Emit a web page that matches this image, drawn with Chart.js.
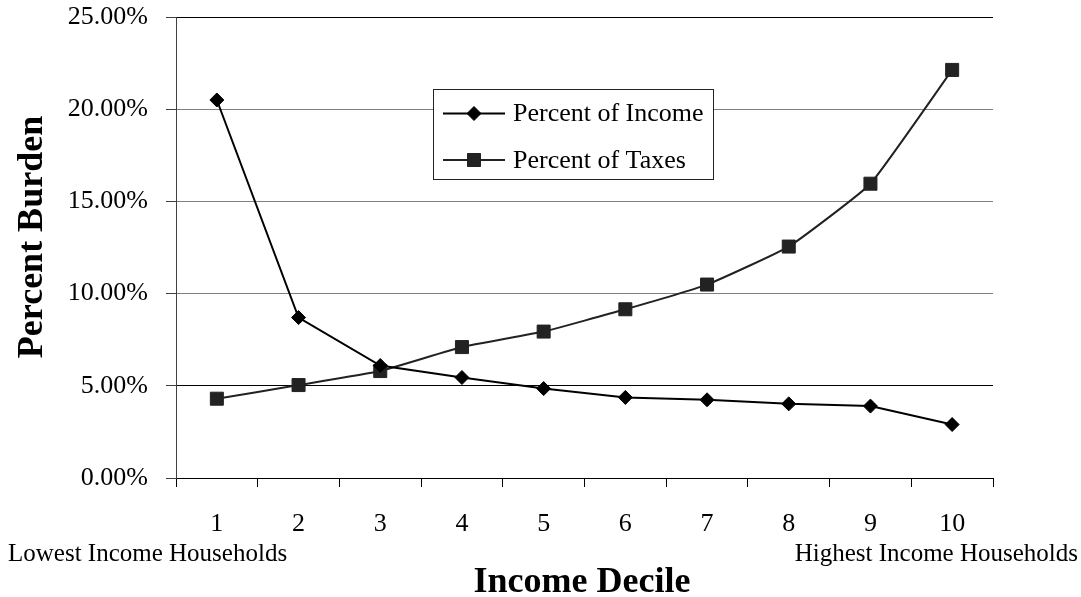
<!DOCTYPE html>
<html>
<head>
<meta charset="utf-8">
<title>Percent Burden by Income Decile</title>
<script src="https://cdn.jsdelivr.net/npm/chart.js@4/dist/chart.umd.min.js"></script>
<style>
  html, body { margin: 0; padding: 0; background: #fff; }
  #wrap { position: relative; width: 1081px; height: 597px; }
</style>
</head>
<body>
<div id="wrap"><canvas id="chart"></canvas></div>
<script>
// Income deciles (x categories)
const deciles = ['1', '2', '3', '4', '5', '6', '7', '8', '9', '10'];

// Tax burden as a percent of each decile's income
const percentOfIncome = [20.5, 8.7, 6.1, 5.45, 4.85, 4.37, 4.24, 4.02, 3.9, 2.9];

// Each decile's share of all taxes paid
const percentOfTaxes = [4.3, 5.04, 5.8, 7.1, 7.94, 9.15, 10.49, 12.55, 15.96, 22.13];

// Y axis range and step (percent)
const yMin = 0;
const yMax = 25;
const yStep = 5;

const seriesNames = ['Percent of Income', 'Percent of Taxes'];
const xTitle = 'Income Decile';
const yTitle = 'Percent Burden';
const lowEndNote = 'Lowest Income Households';
const highEndNote = 'Highest Income Households';

const SERIF = '"Liberation Serif", "Times New Roman", Times, serif';

function drawMarker(ctx, style, x, y, color) {
  ctx.save();
  ctx.fillStyle = color;
  ctx.strokeStyle = color;
  ctx.lineWidth = 1;
  ctx.beginPath();
  if (style === 'diamond') {
    const r = 7;
    ctx.moveTo(x, y - r);
    ctx.lineTo(x + r, y);
    ctx.lineTo(x, y + r);
    ctx.lineTo(x - r, y);
  } else {
    const h = 6.5;
    ctx.rect(x - h, y - h, 2 * h, 2 * h);
  }
  ctx.closePath();
  ctx.fill();
  ctx.stroke();
  ctx.restore();
}

// Boxed legend inside the plot, plus the axis titles and end-of-axis notes
const decorations = {
  id: 'decorations',
  afterDatasetsDraw(chart) {
    const ctx = chart.ctx;
    const box = { left: 433.5, top: 89.5, right: 713.5, bottom: 179.5 };
    ctx.save();
    ctx.fillStyle = '#fff';
    ctx.fillRect(box.left, box.top, box.right - box.left, box.bottom - box.top);
    ctx.strokeStyle = '#222';
    ctx.lineWidth = 1;
    ctx.strokeRect(box.left, box.top, box.right - box.left, box.bottom - box.top);

    const rows = [
      { name: seriesNames[0], marker: 'diamond', color: '#000', cy: 113.5, base: 121 },
      { name: seriesNames[1], marker: 'square', color: '#222', cy: 160, base: 168 }
    ];
    rows.forEach(r => {
      ctx.strokeStyle = r.color;
      ctx.lineWidth = 2;
      ctx.beginPath();
      ctx.moveTo(443, r.cy);
      ctx.lineTo(505, r.cy);
      ctx.stroke();
      drawMarker(ctx, r.marker, 474, r.cy, r.color);
      ctx.fillStyle = '#000';
      ctx.font = '26px ' + SERIF;
      ctx.textAlign = 'left';
      ctx.textBaseline = 'alphabetic';
      ctx.fillText(r.name, 513, r.base);
    });
    ctx.restore();
  },
  afterDraw(chart) {
    const ctx = chart.ctx;
    ctx.save();
    ctx.fillStyle = '#000';

    // x axis title
    ctx.font = 'bold 36px ' + SERIF;
    ctx.textAlign = 'center';
    ctx.textBaseline = 'alphabetic';
    ctx.fillText(xTitle, 582, 592);

    // y axis title, rotated
    ctx.save();
    ctx.translate(42, 237);
    ctx.rotate(-Math.PI / 2);
    ctx.fillText(yTitle, 0, 0);
    ctx.restore();

    // notes under the first and last deciles
    ctx.font = '25px ' + SERIF;
    ctx.textAlign = 'left';
    ctx.fillText(lowEndNote, 8, 561);
    ctx.textAlign = 'right';
    ctx.fillText(highEndNote, 1078, 561);
    ctx.restore();
  }
};

new Chart(document.getElementById('chart'), {
  type: 'line',
  data: {
    labels: deciles,
    datasets: [
      {
        label: seriesNames[0],
        data: percentOfIncome,
        borderColor: '#000',
        backgroundColor: '#000',
        borderWidth: 2,
        tension: 0,
        pointStyle: 'rectRot',
        pointRadius: 7,
        pointBorderWidth: 1,
        pointBackgroundColor: '#000',
        pointBorderColor: '#000'
      },
      {
        label: seriesNames[1],
        data: percentOfTaxes,
        borderColor: '#222',
        backgroundColor: '#222',
        borderWidth: 2,
        tension: 0.12,
        pointStyle: 'rect',
        pointRadius: 9.2,
        pointBorderWidth: 1,
        pointBackgroundColor: '#222',
        pointBorderColor: '#222'
      }
    ]
  },
  options: {
    responsive: true,
    maintainAspectRatio: false,
    animation: false,
    layout: { padding: { top: 17, right: 88, left: 0, bottom: 0 } },
    plugins: {
      legend: { display: false },
      tooltip: { enabled: false }
    },
    scales: {
      x: {
        type: 'category',
        offset: true,
        afterFit(scale) {
          scale.height = 119;
          scale.paddingLeft = 0;
          scale.paddingRight = 0;
        },
        grid: {
          offset: true,
          drawOnChartArea: false,
          drawTicks: true,
          tickLength: 9,
          tickColor: '#000',
          tickWidth: 1
        },
        border: { color: '#000', width: 1 },
        ticks: {
          color: '#000',
          padding: 22,
          maxRotation: 0,
          font: { family: SERIF, size: 26 }
        }
      },
      y: {
        min: yMin,
        max: yMax,
        afterFit(scale) {
          scale.width = 176;
          scale.paddingTop = 0;
          scale.paddingBottom = 0;
        },
        grid: {
          color: ctx => (ctx.tick && (ctx.tick.value === 5 || ctx.tick.value === 25 || ctx.tick.value === 0)) ? '#000' : '#808080',
          lineWidth: 1,
          drawTicks: true,
          tickLength: 10,
          tickColor: '#404040'
        },
        border: { color: '#404040', width: 1 },
        ticks: {
          stepSize: yStep,
          color: '#000',
          padding: 18,
          font: { family: SERIF, size: 26 },
          callback: v => v.toFixed(2) + '%'
        }
      }
    }
  },
  plugins: [decorations]
});
</script>
</body>
</html>
